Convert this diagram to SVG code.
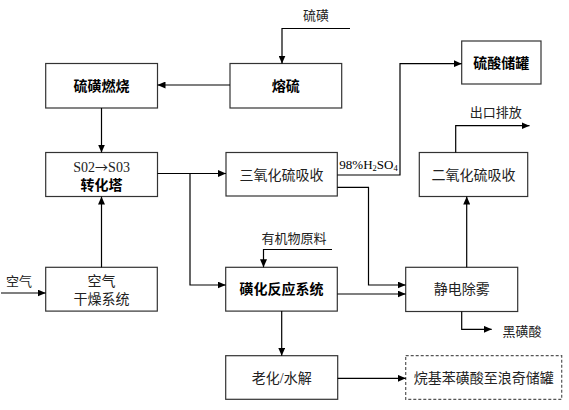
<svg xmlns="http://www.w3.org/2000/svg" width="569" height="410" viewBox="0 0 569 410">
<style>
.box{fill:#fff;stroke:#333;stroke-width:1.2}
.dash{fill:#fff;stroke:#555;stroke-width:1.2;stroke-dasharray:3,2}
.t{font-family:"Liberation Serif","Noto Sans CJK SC",serif;font-size:14px;fill:#222;text-anchor:middle}
.b{font-weight:bold;fill:#000}
.l{font-family:"Liberation Serif","Noto Sans CJK SC",serif;font-size:13px;fill:#222;text-anchor:middle}
.c{fill:none;stroke:#000;stroke-width:1.2}
.a{marker-end:url(#ah)}
</style>
<defs>
<marker id="ah" markerUnits="userSpaceOnUse" markerWidth="8" markerHeight="7" refX="8" refY="3.5" orient="auto">
<path d="M0,0 L8,3.5 L0,7 z" fill="#000"/>
</marker>
</defs>
<g id="n-burn"><rect class="box" x="45.7" y="63.5" width="111.8" height="44.5"/><text class="t b" x="101.6" y="90.5">硫磺燃烧</text></g>
<g id="n-melt"><rect class="box" x="230" y="63.5" width="111.7" height="44.5"/><text class="t b" x="285.8" y="90.5">熔硫</text></g>
<g id="n-h2so4tank"><rect class="box" x="461.7" y="41" width="79.3" height="43"/><text class="t b" x="501.3" y="68">硫酸储罐</text></g>
<g id="n-conv"><rect class="box" x="45.7" y="152.5" width="111.8" height="44"/><text class="t" x="101.6" y="171.5" font-size="15">S02<tspan font-family="Noto Sans CJK SC, sans-serif" font-size="13">→</tspan>S03</text><text class="t b" x="101.6" y="190">转化塔</text></g>
<g id="n-so3abs"><rect class="box" x="226" y="152.5" width="111.3" height="43.5"/><text class="t" x="281.6" y="179.5">三氧化硫吸收</text></g>
<g id="n-so2abs"><rect class="box" x="419.3" y="152.5" width="108.4" height="44"/><text class="t" x="473.5" y="179.5">二氧化硫吸收</text></g>
<g id="n-dry"><rect class="box" x="45.7" y="267.3" width="111.6" height="43.8"/><text class="t" x="101.5" y="285.5">空气</text><text class="t" x="101.5" y="304">干燥系统</text></g>
<g id="n-sulf"><rect class="box" x="225.7" y="267.3" width="111.6" height="43.8"/><text class="t b" x="281.5" y="294">磺化反应系统</text></g>
<g id="n-esp"><rect class="box" x="405.7" y="267.3" width="112" height="44.2"/><text class="t" x="461.7" y="294">静电除雾</text></g>
<g id="n-age"><rect class="box" x="225.7" y="355.7" width="112" height="43.6"/><text class="t" x="281.7" y="382.5">老化/水解</text></g>
<g id="n-store"><rect class="dash" x="405.7" y="355.7" width="156" height="43.6"/><text class="t" x="483.7" y="382.5">烷基苯磺酸至浪奇储罐</text></g>
<g id="labels">
<text class="l" x="316" y="20">硫磺</text>
<text class="l" x="495.7" y="116.5">出口排放</text>
<text class="l" x="19" y="285.5">空气</text>
<text class="l" x="294" y="243">有机物原料</text>
<text class="l" x="522" y="335.5">黑磺酸</text>
<text font-family="Liberation Serif, serif" font-size="13" fill="#000" x="339.3" y="169">98%H<tspan font-size="8.5" dy="2">2</tspan><tspan dy="-2">SO</tspan><tspan font-size="8.5" dy="2">4</tspan></text>
</g>
<g id="connectors">
<polyline class="c a" points="350,28.5 282,28.5 282,63.5"/>
<line class="c a" x1="230" y1="85" x2="157.5" y2="85"/>
<line class="c a" x1="101.5" y1="108" x2="101.5" y2="152.5"/>
<line class="c a" x1="101.5" y1="267.3" x2="101.5" y2="196.5"/>
<line class="c a" x1="1" y1="293" x2="45.7" y2="293"/>
<line class="c a" x1="157.5" y1="173.5" x2="226" y2="173.5"/>
<polyline class="c a" points="190,173.5 190,285 225.7,285"/>
<polyline class="c a" points="332,249.5 263.5,249.5 263.5,267.3"/>
<polyline class="c a" points="337.3,175 400,175 400,63.7 461.7,63.7"/>
<polyline class="c a" points="337.3,187.3 368.5,187.3 368.5,285 405.7,285"/>
<line class="c a" x1="337.3" y1="294" x2="405.7" y2="294"/>
<line class="c a" x1="466.7" y1="267.3" x2="466.7" y2="196.5"/>
<polyline class="c a" points="455.7,152.5 455.7,125.7 529.5,125.7"/>
<polyline class="c a" points="461.7,311.5 461.7,329.3 491.7,329.3"/>
<line class="c a" x1="281.7" y1="311.1" x2="281.7" y2="355.7"/>
<line class="c a" x1="337.7" y1="378.3" x2="405.7" y2="378.3"/>
</g>
</svg>
